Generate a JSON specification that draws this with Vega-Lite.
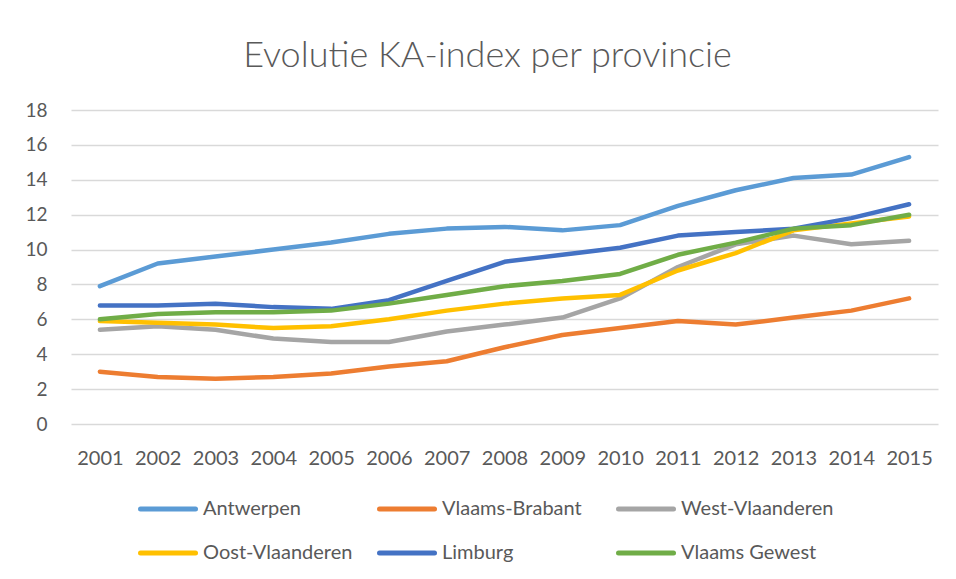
{
  "$schema": "https://vega.github.io/schema/vega-lite/v6.json",
  "autosize": {"type": "none"},
  "padding": {"left": 71, "top": 110, "right": 18, "bottom": 155},
  "width": 867,
  "height": 314,
  "background": "white",
  "title": {
    "text": "Evolutie KA-index per provincie",
    "font": "Lato",
    "fontSize": 36,
    "fontWeight": 300,
    "color": "#595959",
    "anchor": "middle",
    "frame": "group",
    "dx": -17,
    "offset": 26
  },
  "config": {
    "view": {"stroke": null},
    "font": "Lato"
  },
  "datasets": {
    "ka": [
      {"jaar": "2001", "provincie": "Antwerpen", "waarde": 7.9},
      {"jaar": "2002", "provincie": "Antwerpen", "waarde": 9.2},
      {"jaar": "2003", "provincie": "Antwerpen", "waarde": 9.6},
      {"jaar": "2004", "provincie": "Antwerpen", "waarde": 10.0},
      {"jaar": "2005", "provincie": "Antwerpen", "waarde": 10.4},
      {"jaar": "2006", "provincie": "Antwerpen", "waarde": 10.9},
      {"jaar": "2007", "provincie": "Antwerpen", "waarde": 11.2},
      {"jaar": "2008", "provincie": "Antwerpen", "waarde": 11.3},
      {"jaar": "2009", "provincie": "Antwerpen", "waarde": 11.1},
      {"jaar": "2010", "provincie": "Antwerpen", "waarde": 11.4},
      {"jaar": "2011", "provincie": "Antwerpen", "waarde": 12.5},
      {"jaar": "2012", "provincie": "Antwerpen", "waarde": 13.4},
      {"jaar": "2013", "provincie": "Antwerpen", "waarde": 14.1},
      {"jaar": "2014", "provincie": "Antwerpen", "waarde": 14.3},
      {"jaar": "2015", "provincie": "Antwerpen", "waarde": 15.3},
      {"jaar": "2001", "provincie": "Vlaams-Brabant", "waarde": 3.0},
      {"jaar": "2002", "provincie": "Vlaams-Brabant", "waarde": 2.7},
      {"jaar": "2003", "provincie": "Vlaams-Brabant", "waarde": 2.6},
      {"jaar": "2004", "provincie": "Vlaams-Brabant", "waarde": 2.7},
      {"jaar": "2005", "provincie": "Vlaams-Brabant", "waarde": 2.9},
      {"jaar": "2006", "provincie": "Vlaams-Brabant", "waarde": 3.3},
      {"jaar": "2007", "provincie": "Vlaams-Brabant", "waarde": 3.6},
      {"jaar": "2008", "provincie": "Vlaams-Brabant", "waarde": 4.4},
      {"jaar": "2009", "provincie": "Vlaams-Brabant", "waarde": 5.1},
      {"jaar": "2010", "provincie": "Vlaams-Brabant", "waarde": 5.5},
      {"jaar": "2011", "provincie": "Vlaams-Brabant", "waarde": 5.9},
      {"jaar": "2012", "provincie": "Vlaams-Brabant", "waarde": 5.7},
      {"jaar": "2013", "provincie": "Vlaams-Brabant", "waarde": 6.1},
      {"jaar": "2014", "provincie": "Vlaams-Brabant", "waarde": 6.5},
      {"jaar": "2015", "provincie": "Vlaams-Brabant", "waarde": 7.2},
      {"jaar": "2001", "provincie": "West-Vlaanderen", "waarde": 5.4},
      {"jaar": "2002", "provincie": "West-Vlaanderen", "waarde": 5.6},
      {"jaar": "2003", "provincie": "West-Vlaanderen", "waarde": 5.4},
      {"jaar": "2004", "provincie": "West-Vlaanderen", "waarde": 4.9},
      {"jaar": "2005", "provincie": "West-Vlaanderen", "waarde": 4.7},
      {"jaar": "2006", "provincie": "West-Vlaanderen", "waarde": 4.7},
      {"jaar": "2007", "provincie": "West-Vlaanderen", "waarde": 5.3},
      {"jaar": "2008", "provincie": "West-Vlaanderen", "waarde": 5.7},
      {"jaar": "2009", "provincie": "West-Vlaanderen", "waarde": 6.1},
      {"jaar": "2010", "provincie": "West-Vlaanderen", "waarde": 7.2},
      {"jaar": "2011", "provincie": "West-Vlaanderen", "waarde": 9.0},
      {"jaar": "2012", "provincie": "West-Vlaanderen", "waarde": 10.3},
      {"jaar": "2013", "provincie": "West-Vlaanderen", "waarde": 10.8},
      {"jaar": "2014", "provincie": "West-Vlaanderen", "waarde": 10.3},
      {"jaar": "2015", "provincie": "West-Vlaanderen", "waarde": 10.5},
      {"jaar": "2001", "provincie": "Oost-Vlaanderen", "waarde": 5.9},
      {"jaar": "2002", "provincie": "Oost-Vlaanderen", "waarde": 5.8},
      {"jaar": "2003", "provincie": "Oost-Vlaanderen", "waarde": 5.7},
      {"jaar": "2004", "provincie": "Oost-Vlaanderen", "waarde": 5.5},
      {"jaar": "2005", "provincie": "Oost-Vlaanderen", "waarde": 5.6},
      {"jaar": "2006", "provincie": "Oost-Vlaanderen", "waarde": 6.0},
      {"jaar": "2007", "provincie": "Oost-Vlaanderen", "waarde": 6.5},
      {"jaar": "2008", "provincie": "Oost-Vlaanderen", "waarde": 6.9},
      {"jaar": "2009", "provincie": "Oost-Vlaanderen", "waarde": 7.2},
      {"jaar": "2010", "provincie": "Oost-Vlaanderen", "waarde": 7.4},
      {"jaar": "2011", "provincie": "Oost-Vlaanderen", "waarde": 8.8},
      {"jaar": "2012", "provincie": "Oost-Vlaanderen", "waarde": 9.8},
      {"jaar": "2013", "provincie": "Oost-Vlaanderen", "waarde": 11.1},
      {"jaar": "2014", "provincie": "Oost-Vlaanderen", "waarde": 11.5},
      {"jaar": "2015", "provincie": "Oost-Vlaanderen", "waarde": 11.9},
      {"jaar": "2001", "provincie": "Limburg", "waarde": 6.8},
      {"jaar": "2002", "provincie": "Limburg", "waarde": 6.8},
      {"jaar": "2003", "provincie": "Limburg", "waarde": 6.9},
      {"jaar": "2004", "provincie": "Limburg", "waarde": 6.7},
      {"jaar": "2005", "provincie": "Limburg", "waarde": 6.6},
      {"jaar": "2006", "provincie": "Limburg", "waarde": 7.1},
      {"jaar": "2007", "provincie": "Limburg", "waarde": 8.2},
      {"jaar": "2008", "provincie": "Limburg", "waarde": 9.3},
      {"jaar": "2009", "provincie": "Limburg", "waarde": 9.7},
      {"jaar": "2010", "provincie": "Limburg", "waarde": 10.1},
      {"jaar": "2011", "provincie": "Limburg", "waarde": 10.8},
      {"jaar": "2012", "provincie": "Limburg", "waarde": 11.0},
      {"jaar": "2013", "provincie": "Limburg", "waarde": 11.2},
      {"jaar": "2014", "provincie": "Limburg", "waarde": 11.8},
      {"jaar": "2015", "provincie": "Limburg", "waarde": 12.6},
      {"jaar": "2001", "provincie": "Vlaams Gewest", "waarde": 6.0},
      {"jaar": "2002", "provincie": "Vlaams Gewest", "waarde": 6.3},
      {"jaar": "2003", "provincie": "Vlaams Gewest", "waarde": 6.4},
      {"jaar": "2004", "provincie": "Vlaams Gewest", "waarde": 6.4},
      {"jaar": "2005", "provincie": "Vlaams Gewest", "waarde": 6.5},
      {"jaar": "2006", "provincie": "Vlaams Gewest", "waarde": 6.9},
      {"jaar": "2007", "provincie": "Vlaams Gewest", "waarde": 7.4},
      {"jaar": "2008", "provincie": "Vlaams Gewest", "waarde": 7.9},
      {"jaar": "2009", "provincie": "Vlaams Gewest", "waarde": 8.2},
      {"jaar": "2010", "provincie": "Vlaams Gewest", "waarde": 8.6},
      {"jaar": "2011", "provincie": "Vlaams Gewest", "waarde": 9.7},
      {"jaar": "2012", "provincie": "Vlaams Gewest", "waarde": 10.4},
      {"jaar": "2013", "provincie": "Vlaams Gewest", "waarde": 11.2},
      {"jaar": "2014", "provincie": "Vlaams Gewest", "waarde": 11.4},
      {"jaar": "2015", "provincie": "Vlaams Gewest", "waarde": 12.0}
    ]
  },
  "data": {"name": "ka"},
  "mark": {"type": "line", "strokeWidth": 4.5, "strokeCap": "round", "strokeJoin": "round"},
  "encoding": {
    "x": {
      "field": "jaar",
      "type": "ordinal",
      "scale": {"type": "point", "padding": 0.5},
      "axis": {
        "title": null,
        "domain": false,
        "ticks": false,
        "grid": false,
        "labelAngle": 0,
        "labelFont": "Lato",
        "labelFontSize": 20,
        "labelColor": "#595959",
        "labelPadding": 24
      }
    },
    "y": {
      "field": "waarde",
      "type": "quantitative",
      "scale": {"domain": [0, 18], "nice": false, "zero": true},
      "axis": {
        "title": null,
        "values": [0, 2, 4, 6, 8, 10, 12, 14, 16, 18],
        "domain": false,
        "ticks": false,
        "grid": true,
        "gridColor": "#D9D9D9",
        "gridWidth": 1.5,
        "labelFont": "Lato",
        "labelFontSize": 19,
        "labelColor": "#595959",
        "labelPadding": 24
      }
    },
    "color": {
      "field": "provincie",
      "type": "nominal",
      "sort": ["Antwerpen", "Vlaams-Brabant", "West-Vlaanderen", "Oost-Vlaanderen", "Limburg", "Vlaams Gewest"],
      "scale": {
        "domain": ["Antwerpen", "Vlaams-Brabant", "West-Vlaanderen", "Oost-Vlaanderen", "Limburg", "Vlaams Gewest"],
        "range": ["#5B9BD5", "#ED7D31", "#A5A5A5", "#FFC000", "#4472C4", "#70AD47"]
      },
      "legend": {
        "title": null,
        "orient": "none",
        "legendX": 67,
        "legendY": 369,
        "direction": "horizontal",
        "columns": 3,
        "gridAlign": "all",
        "columnPadding": 13,
        "rowPadding": 4,
        "symbolType": "stroke",
        "symbolSize": 3025,
        "symbolStrokeWidth": 5,
        "labelFont": "Lato",
        "labelFontSize": 20,
        "labelColor": "#595959",
        "labelOffset": 5,
        "labelLimit": 300,
        "encode": {"symbols": {"update": {"strokeCap": {"value": "round"}}}}
      }
    },
    "order": {"field": "jaar"}
  }
}
